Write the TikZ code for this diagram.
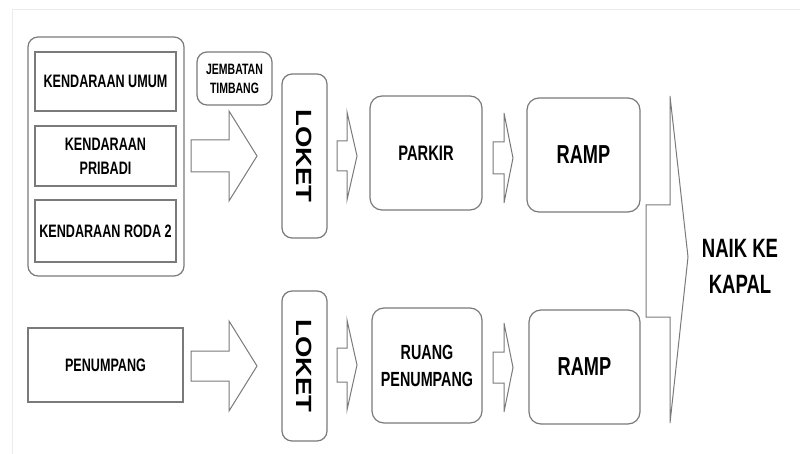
\documentclass[tikz,border=0pt]{standalone}
\usepackage{fontspec}
\setmainfont{Liberation Sans}
\newfontfamily\cond[FakeStretch=0.7]{Liberation Sans Bold}
\newfontfamily\widef[FakeStretch=1.25]{Liberation Sans Bold}
\definecolor{edge}{HTML}{7A7A7A}
\tikzset{
  base/.style={draw=edge, line width=1.2pt, fill=white, inner sep=0pt, align=center, text=black},
  sqbox/.style={base},
  rbox/.style={base, rounded corners=10pt},
  rbig/.style={base, rounded corners=12pt},
  barrow/.style={draw=edge, line width=1pt, fill=white, line join=miter},
  lbl/.style={font=\cond\fontsize{18}{24}\selectfont},
  loketlbl/.style={font=\widef\fontsize{22}{26}\selectfont, rotate=-90}
}
% block arrow: shaft start x, head start x, tip x, centre y, shaft half width, head half height
\newcommand{\blockarrow}[6]{%
  \draw[barrow] (#1,#4-#5) -- (#2,#4-#5) -- (#2,#4-#6) -- (#3,#4) -- (#2,#4+#6) -- (#2,#4+#5) -- (#1,#4+#5) -- cycle;}
\begin{document}
\begin{tikzpicture}[x=1pt,y=-1pt]
\useasboundingbox (0,0) rectangle (800,454);
\fill[white] (0,0) rectangle (800,454);
% faint frame
\draw[gray!15, line width=0.8pt] (12,454) -- (12,9) -- (800,9);

% vehicle group
\node[rbox, minimum width=156pt, minimum height=239pt] (grp) at (106,156.5) {};
\node[sqbox, lbl, minimum width=141pt, minimum height=59pt] (k1) at (105.5,81.5) {KENDARAAN UMUM};
\node[sqbox, lbl, minimum width=141pt, minimum height=60pt] (k2) at (105.5,156) {KENDARAAN\\PRIBADI};
\node[sqbox, lbl, minimum width=141pt, minimum height=62pt] (k3) at (105.5,231) {KENDARAAN RODA 2};

\node[rbox, font=\cond\fontsize{15}{19}\selectfont, minimum width=75pt, minimum height=53pt] (jt) at (234.5,78.5) {JEMBATAN\\TIMBANG};

\node[rbox, minimum width=45pt, minimum height=164pt] (loket1) at (304.5,156) {};
\node[loketlbl] (lt1) at (loket1.center) {LOKET};

\node[rbig, font=\cond\fontsize{21}{26}\selectfont, minimum width=112pt, minimum height=114pt] (parkir) at (426,153) {PARKIR};
\node[rbig, font=\cond\fontsize{26}{30}\selectfont, minimum width=113pt, minimum height=114pt] (ramp1) at (583.5,155) {RAMP};

% passenger row
\node[sqbox, lbl, minimum width=155pt, minimum height=74pt] (pen) at (105.5,365) {PENUMPANG};
\node[rbox, minimum width=45pt, minimum height=150pt] (loket2) at (304.5,366) {};
\node[loketlbl] (lt2) at (loket2.center) {LOKET};
\node[rbig, font=\cond\fontsize{20.5}{27}\selectfont, minimum width=110pt, minimum height=115pt] (ruang) at (427,365.5) {RUANG\\PENUMPANG};
\node[rbig, font=\cond\fontsize{26}{30}\selectfont, minimum width=111pt, minimum height=114pt] (ramp2) at (584.5,367) {RAMP};

% block arrows
\blockarrow{191}{229}{257}{156}{16}{45}
\blockarrow{337}{347}{357}{156}{15}{44}
\blockarrow{493}{504}{513}{158}{16}{45}
\blockarrow{191}{229}{257}{366}{15}{45}
\blockarrow{337}{347}{357}{365}{17}{45}
\blockarrow{493}{504}{513}{367.5}{15.5}{44.5}

% final merging arrow
\draw[barrow] (670,96) -- (670,205) -- (646,205) -- (646,317) -- (670,317) -- (670,423) -- (688,257) -- cycle;

\node[font=\cond\fontsize{26.5}{36}\selectfont, align=center, inner sep=0pt] (naik) at (740,266) {NAIK KE\\KAPAL};
\end{tikzpicture}
\end{document}
